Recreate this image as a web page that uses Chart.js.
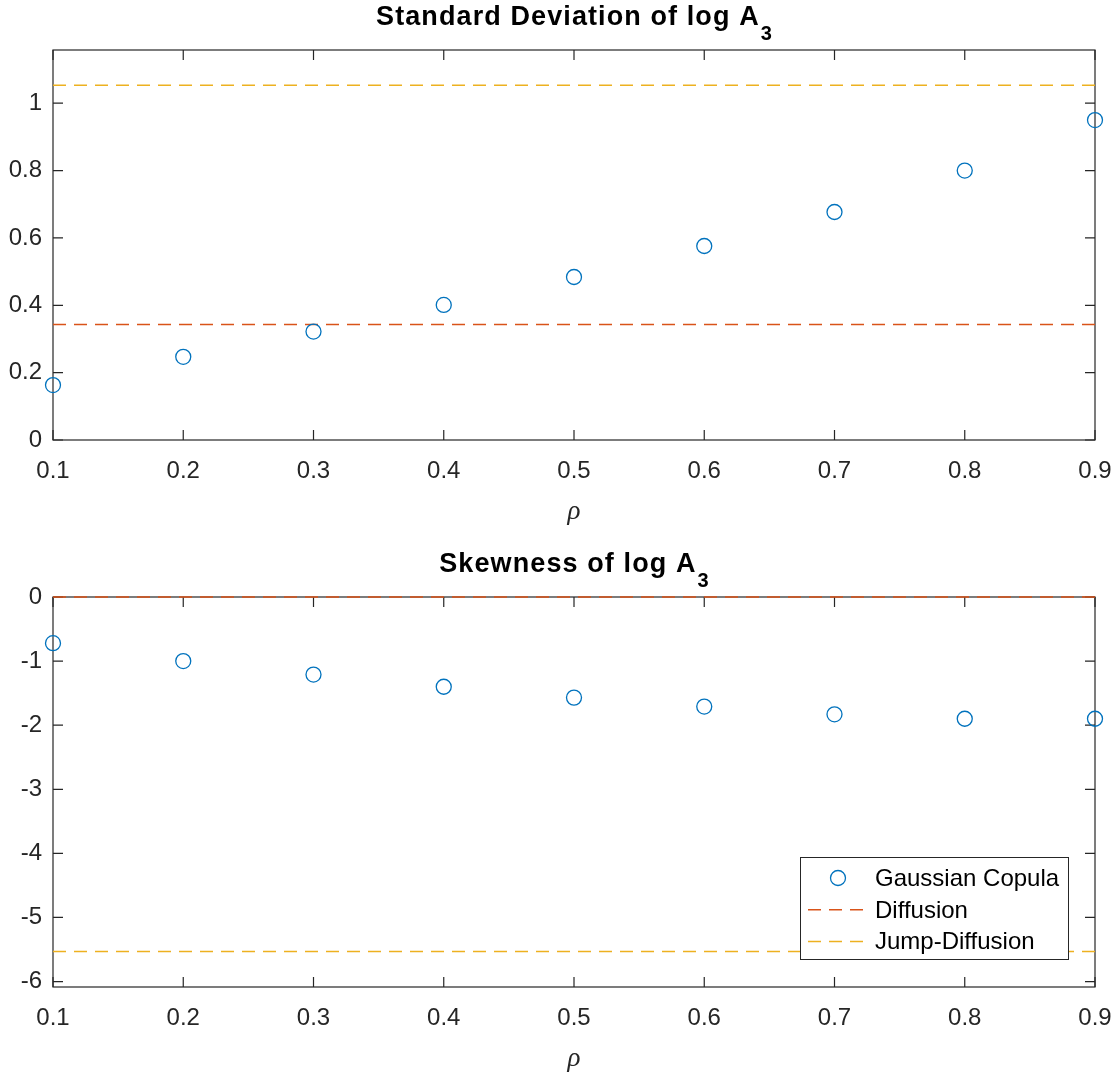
<!DOCTYPE html>
<html>
<head>
<meta charset="utf-8">
<script src="https://cdn.jsdelivr.net/npm/chart.js@4"></script>
<style>
  html, body { margin: 0; padding: 0; background: #fff; overflow: hidden; }
  canvas { position: absolute; left: 0; }
  #stdChart { top: 0; }
  #skewChart { top: 547px; }
</style>
</head>
<body>
<canvas id="stdChart" width="1115" height="540"></canvas>
<canvas id="skewChart" width="1115" height="540"></canvas>
<script>
// values
const rho = [0.1, 0.2, 0.3, 0.4, 0.5, 0.6, 0.7, 0.8, 0.9];
const stdGaussian = [0.163, 0.247, 0.322, 0.401, 0.484, 0.576, 0.677, 0.800, 0.950];
const skewGaussian = [-0.72, -1.00, -1.21, -1.40, -1.57, -1.71, -1.83, -1.90, -1.90];
const stdDiffusion = [0.343, 0.343];
const stdJump = [1.053, 1.053];
const skewDiffusion = [0, 0];
const skewJump = [-5.53, -5.53];
const lineX = [0.1, 0.9];

const xTicks = [0.1, 0.2, 0.3, 0.4, 0.5, 0.6, 0.7, 0.8, 0.9];
const stdTicks = [0, 0.2, 0.4, 0.6, 0.8, 1];
const skewTicks = [-6, -5, -4, -3, -2, -1, 0];
const stdRange = [0, 1.158];
const skewRange = [-6.085, 0];

const BLUE = "#0072BD";
const ORANGE = "#D95319";
const YELLOW = "#EDB120";
const AXIS = "#262626";
const FONT = "'Liberation Sans', Arial, Helvetica, sans-serif";

const toPoints = (xs, ys) => xs.map((x, i) => ({ x, y: ys[i] }));
const fmt = (v) => String(Number(v.toFixed(2)));

// box, inward ticks, subscripted title and inset legend, MATLAB style
const matlabAxes = {
	id: "matlabAxes",
	beforeDatasetsDraw(chart) {
		const { ctx, chartArea: a, scales } = chart;
		const tl = 10;
		ctx.save();
		ctx.strokeStyle = AXIS;
		ctx.lineWidth = 1.2;
		ctx.strokeRect(a.left, a.top, a.right - a.left, a.bottom - a.top);
		ctx.beginPath();
		scales.x.ticks.forEach((t) => {
			const px = scales.x.getPixelForValue(t.value);
			ctx.moveTo(px, a.bottom);
			ctx.lineTo(px, a.bottom - tl);
			ctx.moveTo(px, a.top);
			ctx.lineTo(px, a.top + tl);
		});
		scales.y.ticks.forEach((t) => {
			const py = scales.y.getPixelForValue(t.value);
			ctx.moveTo(a.left, py);
			ctx.lineTo(a.left + tl, py);
			ctx.moveTo(a.right, py);
			ctx.lineTo(a.right - tl, py);
		});
		ctx.stroke();
		ctx.restore();
	},
	afterDraw(chart, args, opts) {
		const { ctx, chartArea: a } = chart;
		ctx.save();
		// title
		ctx.fillStyle = "#000";
		ctx.textBaseline = "alphabetic";
		ctx.textAlign = "left";
		ctx.letterSpacing = "1.1px";
		ctx.font = `bold 27px ${FONT}`;
		const w1 = ctx.measureText(opts.title).width;
		ctx.font = `bold 20px ${FONT}`;
		const w2 = ctx.measureText(opts.sub).width;
		const x0 = (a.left + a.right) / 2 - (w1 + w2) / 2;
		const base = a.top - 25;
		ctx.font = `bold 27px ${FONT}`;
		ctx.fillText(opts.title, x0, base);
		ctx.font = `bold 20px ${FONT}`;
		ctx.fillText(opts.sub, x0 + w1 + 1, base + 15);
		ctx.letterSpacing = "0px";

		if (opts.legend) {
			const bw = 268, bh = 102;
			const bx = a.right - 27 - bw;
			const by = a.bottom - 28 - bh;
			ctx.fillStyle = "#fff";
			ctx.fillRect(bx, by, bw, bh);
			ctx.strokeStyle = AXIS;
			ctx.lineWidth = 1;
			ctx.strokeRect(bx + 0.5, by + 0.5, bw, bh);
			ctx.font = `24px ${FONT}`;
			chart.data.datasets.forEach((ds, i) => {
				const yBase = by + 29 + i * 31.7;
				const yMid = yBase - 8;
				if (ds.showLine) {
					ctx.strokeStyle = ds.borderColor;
					ctx.lineWidth = ds.borderWidth;
					ctx.setLineDash(ds.borderDash);
					ctx.beginPath();
					ctx.moveTo(bx + 8, yMid);
					ctx.lineTo(bx + 63, yMid);
					ctx.stroke();
					ctx.setLineDash([]);
				} else {
					ctx.strokeStyle = ds.borderColor;
					ctx.lineWidth = ds.borderWidth;
					ctx.beginPath();
					ctx.arc(bx + 38, yMid, ds.pointRadius, 0, Math.PI * 2);
					ctx.stroke();
				}
				ctx.fillStyle = "#000";
				ctx.fillText(ds.label, bx + 75, yBase);
			});
		}
		ctx.restore();
	},
};

function makeConfig(gauss, diff, jump, yRange, yTicks, title, legend) {
	const tickFont = { family: FONT, size: 24 };
	return {
		type: "scatter",
		data: {
			datasets: [
				{
					label: "Gaussian Copula",
					data: toPoints(rho, gauss),
					showLine: false,
					pointStyle: "circle",
					pointRadius: 7.5,
					borderWidth: 1.3,
					borderColor: BLUE,
					backgroundColor: "rgba(0,0,0,0)",
					clip: false,
				},
				{
					label: "Diffusion",
					data: toPoints(lineX, diff),
					showLine: true,
					borderDash: [13, 8],
					borderWidth: 1.5,
					borderColor: ORANGE,
					pointRadius: 0,
					clip: false,
				},
				{
					label: "Jump-Diffusion",
					data: toPoints(lineX, jump),
					showLine: true,
					borderDash: [13, 8],
					borderWidth: 1.5,
					borderColor: YELLOW,
					pointRadius: 0,
					clip: false,
				},
			],
		},
		options: {
			responsive: false,
			animation: false,
			events: [],
			devicePixelRatio: 1,
			layout: { padding: { top: 50, right: 20, left: 0, bottom: 0 } },
			plugins: {
				legend: { display: false },
				tooltip: { enabled: false },
				title: { display: false },
				matlabAxes: { title, sub: "3", legend },
			},
			scales: {
				x: {
					type: "linear",
					min: xTicks[0],
					max: xTicks[xTicks.length - 1],
					afterBuildTicks: (s) => { s.ticks = xTicks.map((v) => ({ value: v })); },
					afterFit: (s) => {
						s.height = 100;
						s.paddingLeft = 0;
						s.paddingRight = 0;
					},
					grid: { display: false, drawTicks: false },
					border: { display: false },
					ticks: {
						callback: (v) => v.toFixed(1),
						font: tickFont,
						color: AXIS,
						padding: 17,
						maxRotation: 0,
						autoSkip: false,
					},
					title: {
						display: true,
						text: "ρ",
						color: AXIS,
						font: { family: "'Liberation Serif', serif", style: "italic", size: 27 },
						padding: { top: 0, bottom: 12 },
					},
				},
				y: {
					type: "linear",
					min: yRange[0],
					max: yRange[1],
					afterBuildTicks: (s) => { s.ticks = yTicks.map((v) => ({ value: v })); },
					afterFit: (s) => {
						s.width = 53;
						s.paddingTop = 0;
						s.paddingBottom = 0;
					},
					grid: { display: false, drawTicks: false },
					border: { display: false },
					ticks: {
						callback: (v) => fmt(v),
						font: tickFont,
						color: AXIS,
						padding: 11,
						autoSkip: false,
					},
				},
			},
		},
		plugins: [matlabAxes],
	};
}

new Chart(
	document.getElementById("stdChart"),
	makeConfig(stdGaussian, stdDiffusion, stdJump, stdRange, stdTicks,
		"Standard Deviation of log A", false),
);
new Chart(
	document.getElementById("skewChart"),
	makeConfig(skewGaussian, skewDiffusion, skewJump, skewRange, skewTicks,
		"Skewness of log A", true),
);
</script>
</body>
</html>
